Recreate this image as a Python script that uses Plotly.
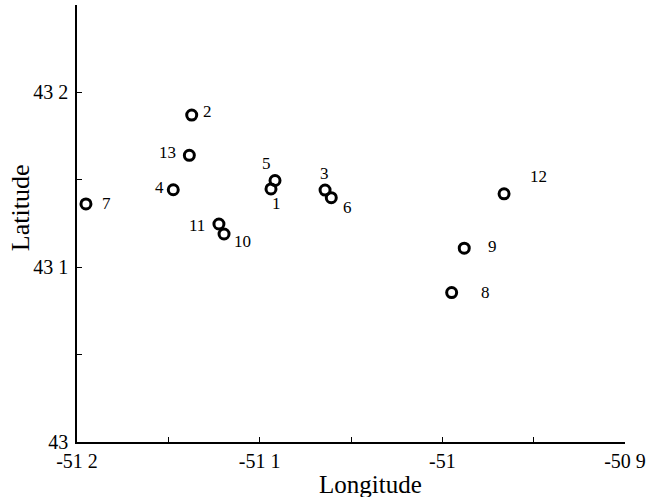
import plotly.graph_objects as go

# Data
station_ids = ["1", "2", "3", "4", "5", "6", "7", "8", "9", "10", "11", "12", "13"]
longitude = [-51.0938, -51.1372, -51.0642, -51.1473, -51.0916, -51.0608, -51.1951,
             -50.9949, -50.9880, -51.1195, -51.1223, -50.9662, -51.1385]
latitude = [43.1448, 43.1870, 43.1441, 43.1443, 43.1496, 43.1398, 43.1362,
            43.0855, 43.1109, 43.1190, 43.1247, 43.1420, 43.1640]

x_tickvals = [-51.2, -51.15, -51.1, -51.05, -51.0, -50.95, -50.9]
x_ticktext = ["-51 2", "", "-51 1", "", "-51", "", "-50 9"]
y_tickvals = [43.0, 43.05, 43.1, 43.15, 43.2, 43.25]
y_ticktext = ["43", "", "43 1", "", "43 2", ""]

# label pixel offsets (styling)
label_offsets = {
    "1": (6, 15), "2": (16, -4), "3": (-1, -17), "4": (-14, -2), "5": (-9, -17),
    "6": (16, 10), "7": (21, 0), "8": (34, 0), "9": (28, -2), "10": (18, 8),
    "11": (-22, 1), "12": (34, -17), "13": (-22, -3),
}

FONT = "Liberation Serif, Times New Roman, serif"

fig = go.Figure()
fig.add_trace(go.Scatter(
    x=longitude, y=latitude, mode="markers",
    marker=dict(symbol="circle-open", size=10, color="black", line=dict(width=3, color="black")),
    hoverinfo="skip", showlegend=False,
))

for sid, lx, ly in zip(station_ids, longitude, latitude):
    dx, dy = label_offsets[sid]
    fig.add_annotation(x=lx, y=ly, xref="x", yref="y", text=sid, showarrow=False,
                       xshift=dx, yshift=-dy, font=dict(family=FONT, size=17, color="black"))

fig.add_annotation(text="Longitude", xref="paper", yref="paper", x=0.5347, y=-0.098,
                   xanchor="center", yanchor="middle", showarrow=False,
                   font=dict(family=FONT, size=25, color="black"))
fig.add_annotation(text="Latitude", xref="paper", yref="paper", x=-0.104, y=0.535,
                   xanchor="center", yanchor="middle", showarrow=False, textangle=-90,
                   font=dict(family=FONT, size=26, color="black"))

fig.update_layout(
    width=670, height=497,
    margin=dict(l=77, r=45, t=5, b=55),
    paper_bgcolor="white", plot_bgcolor="white",
    font=dict(family=FONT, size=20, color="black"),
    xaxis=dict(range=[-51.2, -50.9], tickvals=x_tickvals, ticktext=x_ticktext,
               ticks="inside", ticklen=5, tickcolor="black", showline=True, linecolor="black",
               linewidth=1.5, showgrid=False, zeroline=False, mirror=False),
    yaxis=dict(range=[43.0, 43.25], tickvals=y_tickvals, ticktext=y_ticktext,
               ticks="inside", ticklen=5, tickcolor="black", showline=True, linecolor="black",
               linewidth=1.5, showgrid=False, zeroline=False, mirror=False,
               ticklabelstandoff=3),
)

fig.write_html("out.html")
